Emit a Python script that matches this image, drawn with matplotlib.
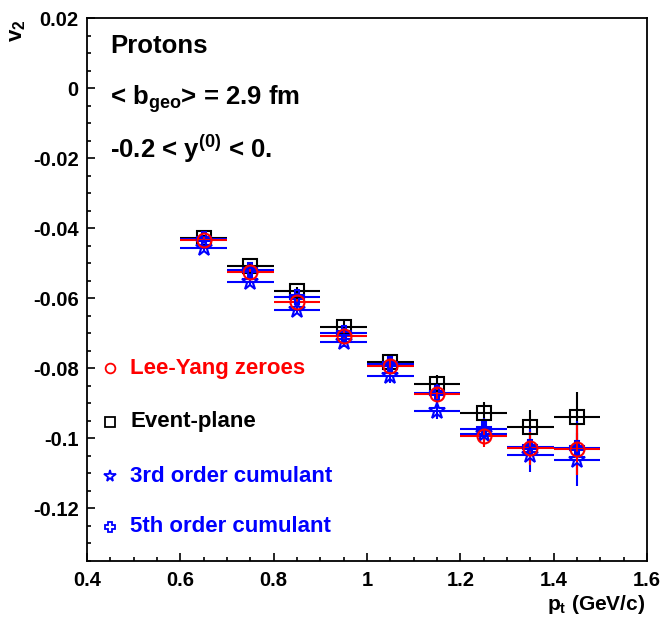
import matplotlib
matplotlib.use("Agg")
import matplotlib.pyplot as plt
from matplotlib.ticker import MultipleLocator, FuncFormatter

plt.rcParams['font.family'] = ['Liberation Sans', 'DejaVu Sans']
plt.rcParams['font.weight'] = 'bold'
plt.rcParams['mathtext.fontset'] = 'custom'
plt.rcParams['mathtext.rm'] = 'Liberation Sans:bold'
plt.rcParams['mathtext.bf'] = 'Liberation Sans:bold'
plt.rcParams['mathtext.it'] = 'Liberation Sans:bold'

# pt bins (GeV/c), half bin width 0.05
pt = [0.65, 0.75, 0.85, 0.95, 1.05, 1.15, 1.25, 1.35, 1.45]
pt_err = [0.05] * 9

v2_lyz = [-0.0433, -0.0526, -0.0610, -0.0708, -0.0795, -0.0874, -0.0995, -0.1029, -0.1031]
err_lyz = [0.0008, 0.0010, 0.0012, 0.0015, 0.0018, 0.0022, 0.0030, 0.0048, 0.0075]

v2_ep = [-0.0427, -0.0508, -0.0579, -0.0681, -0.0781, -0.0845, -0.0928, -0.0969, -0.0940]
err_ep = [0.0008, 0.0010, 0.0012, 0.0015, 0.0018, 0.0025, 0.0032, 0.0050, 0.0073]

v2_c3 = [-0.0457, -0.0554, -0.0633, -0.0724, -0.0821, -0.0921, -0.0988, -0.1048, -0.1062]
err_c3 = [0.0009, 0.0011, 0.0013, 0.0016, 0.0020, 0.0025, 0.0032, 0.0048, 0.0076]

v2_c5 = [-0.0431, -0.0519, -0.0597, -0.0700, -0.0788, -0.0871, -0.0975, -0.1024, -0.1028]
err_c5 = [0.0009, 0.0011, 0.0013, 0.0016, 0.0020, 0.0025, 0.0032, 0.0050, 0.0076]

labels = ["Lee-Yang zeroes", "Event-plane", "3rd order cumulant", "5th order cumulant"]
colors = ['red', 'black', 'blue', 'blue']
markers = ['o', 's', '*', 'P']

fig = plt.figure(figsize=(6.64, 6.2), dpi=100)
ax = fig.add_axes([87/664, 59/620, 560/664, 543/620])

series = [(v2_ep, err_ep, 1), (v2_c3, err_c3, 2), (v2_c5, err_c5, 3), (v2_lyz, err_lyz, 0)]
for vals, errs, i in series:
    ms = 12 if markers[i] == '*' else 10
    ax.errorbar(pt, vals, xerr=pt_err, yerr=errs, fmt=markers[i], color=colors[i],
                mfc='none', mec=colors[i], ms=ms, mew=1.5, elinewidth=1.5, capsize=0)

# text block
ax.text(0.041, 0.9355, "Protons", transform=ax.transAxes, fontsize=18.5, va='baseline', ha='left')
ax.text(0.041, 0.8398, r"< b$_{\mathrm{geo}}$> = 2.9 fm", transform=ax.transAxes,
        fontsize=18.5, va='baseline', ha='left')
ax.text(0.041, 0.7422, r"-0.2 < y$^{\mathrm{(0)}}$ < 0.", transform=ax.transAxes,
        fontsize=18.5, va='baseline', ha='left')

# legend drawn by hand
leg_y = [0.355, 0.256, 0.156, 0.063]
for i in range(4):
    ax.plot([0.041], [leg_y[i]], marker=markers[i], transform=ax.transAxes,
            mfc='none', mec=colors[i], ms=8.5 if markers[i] == '*' else 7, mew=1.3, ls='none')
    ax.text(0.077, leg_y[i], labels[i], color=colors[i], transform=ax.transAxes,
            fontsize=16, va='center', ha='left')

ax.set_xlim(0.4, 1.6)
ax.set_ylim(-0.1351, 0.0201)
ax.xaxis.set_major_locator(MultipleLocator(0.2))
ax.xaxis.set_minor_locator(MultipleLocator(0.05))
ax.yaxis.set_major_locator(MultipleLocator(0.02))
ax.yaxis.set_minor_locator(MultipleLocator(0.005))
fmt = FuncFormatter(lambda v, p: ('%g' % round(v, 4)) if abs(v) > 1e-9 else '0')
ax.xaxis.set_major_formatter(fmt)
ax.yaxis.set_major_formatter(fmt)
ax.tick_params(which='both', direction='in', top=False, right=False, labelsize=14.5, width=1.2)
ax.tick_params(which='major', length=5.5)
ax.tick_params(which='minor', length=3)
ax.tick_params(axis='x', pad=7.5)
ax.tick_params(axis='y', pad=6)
for s in ax.spines.values():
    s.set_linewidth(1.3)

fig.text(18/664, 1 - 31/620, r"v$_{\mathrm{2}}$", rotation=90, fontsize=16, ha='center', va='center')
fig.text(645/664, 1 - 605/620, r"p$_{\mathrm{t}}$ (GeV/c)", fontsize=15, ha='right', va='center')

fig.savefig("out.png", dpi=100)
